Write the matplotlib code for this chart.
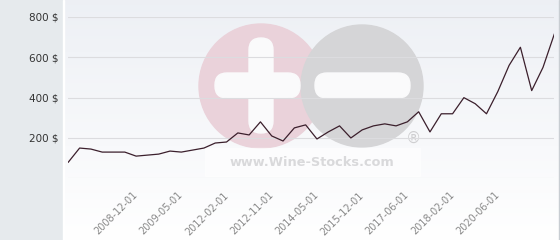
#!/usr/bin/env python3
# -*- coding: utf-8 -*-
"""Wine price history chart (Wine-Stocks style)"""

import numpy as np
import matplotlib
matplotlib.use('Agg')
import matplotlib.pyplot as plt
from matplotlib.patches import Circle, FancyBboxPatch, Rectangle

matplotlib.rcParams['font.family'] = 'DejaVu Sans'

# price per point (USD)
prices = [80, 150, 145, 130, 130, 130, 110, 115, 120, 135, 130, 140, 150, 175,
          180, 225, 215, 280, 210, 185, 250, 265, 195, 230, 260, 200, 240, 260,
          270, 260, 280, 330, 230, 320, 320, 400, 370, 320, 430, 560, 650, 435,
          550, 715]

# labelled dates and the point index they belong to
date_labels = ['2008-12-01', '2009-05-01', '2012-02-01', '2012-11-01', '2014-05-01',
               '2015-12-01', '2017-06-01', '2018-02-01', '2020-06-01']
date_index = [6, 10, 14, 18, 22, 26, 30, 34, 38]

y_ticks = [0, 200, 400, 600, 800]
y_labels = ['', '200 $', '400 $', '600 $', '800 $']

W, H = 560, 240
fig = plt.figure(figsize=(W / 100, H / 100), dpi=100)
fig.patch.set_facecolor('#e6eaed')

# background panel + watermark, in pixel coordinates
bg = fig.add_axes([0, 0, 1, 1])
bg.set_xlim(0, W)
bg.set_ylim(H, 0)
bg.axis('off')
grad = np.linspace(0, 1, 256).reshape(-1, 1)
top = np.array([0.93, 0.94, 0.96])
bot = np.array([1.0, 1.0, 1.0])
img = top[None, None, :] * (1 - grad[:, :, None]) + bot[None, None, :] * grad[:, :, None]
bg.imshow(img, extent=(63, W, H, 0), aspect='auto', zorder=0)
bg.add_patch(Rectangle((62.5, 0), 1, H, color='white', zorder=1))
bg.add_patch(Rectangle((558.5, 0), 1.5, H, color='#c8cdd2', zorder=1))

bg.add_patch(Circle((261, 86), 62, color='#eAd2da', zorder=2))
bg.add_patch(Circle((362, 86), 61, color='#d5d5d7', zorder=3))
bar = dict(boxstyle='round,pad=0,rounding_size=12', color='#fafafb', zorder=4)
bg.add_patch(FancyBboxPatch((215, 73), 85, 25, **bar))
bg.add_patch(FancyBboxPatch((249, 38), 24, 95, **bar))
bg.add_patch(FancyBboxPatch((315, 73), 95, 25, **bar))
bg.add_patch(Rectangle((205, 148), 215, 28, color='white', alpha=0.6, zorder=4))
bg.text(312, 162, 'www.Wine-Stocks.com', fontsize=9.3, fontweight='bold',
        color='#d9d9db', ha='center', va='center', zorder=5)
bg.text(413, 138, '®', fontsize=11, color='#cfcfd1', ha='center', va='center', zorder=5)

# main chart
ax = fig.add_axes([68.3 / W, 1 - 178.3 / H, (554.3 - 68.3) / W, (178.3 - 17) / H])
ax.patch.set_alpha(0)
x = np.arange(len(prices))
ax.plot(x, prices, color='#3b1f2c', linewidth=0.9, zorder=3)

ax.set_xlim(0, len(prices) - 1)
ax.set_ylim(0, 800)
ax.set_yticks(y_ticks)
ax.set_yticklabels(y_labels, fontsize=7.5, color='#333333')
ax.set_xticks(date_index)
ax.set_xticklabels(date_labels, fontsize=7, color='#888888', rotation=45,
                   ha='right', va='center', rotation_mode='anchor')
ax.tick_params(axis='x', length=0, pad=11)
ax.tick_params(axis='y', length=0, pad=7)
ax.grid(axis='y', color='#dcdcdf', linewidth=0.8)
ax.set_axisbelow(True)
for s in ax.spines.values():
    s.set_visible(False)

fig.savefig('out.png', dpi=100, facecolor=fig.get_facecolor())
